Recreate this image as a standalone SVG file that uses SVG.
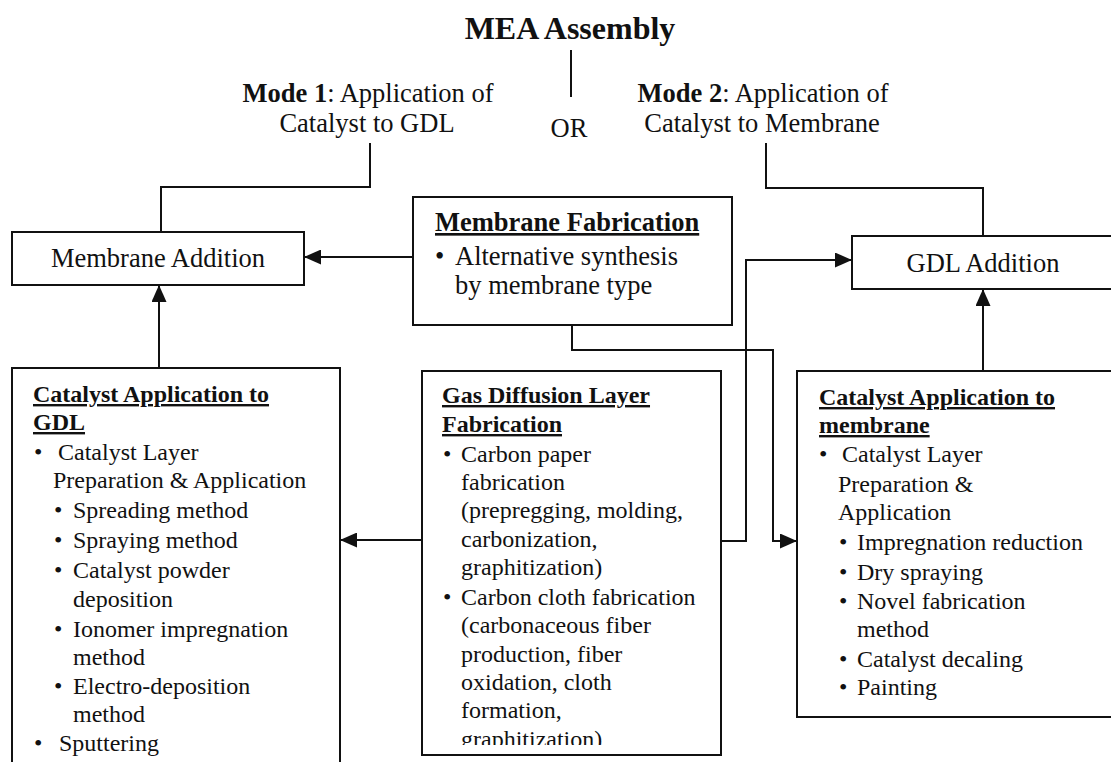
<svg xmlns="http://www.w3.org/2000/svg" width="1111" height="762" viewBox="0 0 1111 762">
<style>
text{font-family:"Liberation Serif","Times New Roman",serif;fill:#111}
.big{font-size:26.5px}
.sm{font-size:24px}
.b{font-weight:bold}
.u{text-decoration:underline}
.box{fill:none;stroke:#111;stroke-width:2}
.ln{fill:none;stroke:#111;stroke-width:2}
.mid{text-anchor:middle}
</style>
<defs>
<marker id="ah" viewBox="0 0 17 15" refX="17" refY="7.5" markerWidth="17" markerHeight="15" markerUnits="userSpaceOnUse" orient="auto"><path d="M0,0 L17,7.5 L0,15 z" fill="#111"/></marker>
<clipPath id="gclip"><rect x="400" y="360" width="340" height="385"/></clipPath>
</defs>
<rect width="1111" height="762" fill="#fff"/>

<g id="title">
<text x="570" y="39" class="b mid" style="font-size:32px">MEA Assembly</text>
<text x="569" y="137" class="big mid">OR</text>
</g>
<g id="mode1">
<text x="368" y="102" class="big mid"><tspan class="b">Mode 1</tspan>: Application of</text>
<text x="367" y="132" class="big mid">Catalyst to GDL</text>
</g>
<g id="mode2">
<text x="763" y="102" class="big mid"><tspan class="b">Mode 2</tspan>: Application of</text>
<text x="762" y="132" class="big mid">Catalyst to Membrane</text>
</g>

<g id="membrane-addition">
<rect x="12" y="232" width="292" height="53" class="box"/>
<text x="158" y="267" class="big mid">Membrane Addition</text>
</g>

<g id="membrane-fabrication">
<rect x="413" y="197" width="319" height="128" class="box"/>
<text x="435" y="231" class="big b u">Membrane Fabrication</text>
<text x="435" y="265" class="big">•</text>
<text x="455" y="265" class="big">Alternative synthesis</text>
<text x="455" y="294" class="big">by membrane type</text>
</g>

<g id="gdl-addition">
<rect x="852" y="236" width="270" height="53" class="box"/>
<text x="983" y="272" class="big mid">GDL Addition</text>
</g>

<g id="catalyst-gdl">
<rect x="12" y="368" width="328" height="410" class="box"/>
<text x="33" y="402" class="sm b u">Catalyst Application to</text>
<text x="33" y="430" class="sm b u">GDL</text>
<text x="34" y="460" class="sm">•</text>
<text x="58" y="460" class="sm">Catalyst Layer</text>
<text x="53" y="488" class="sm">Preparation &amp; Application</text>
<text x="54" y="518" class="sm">•</text>
<text x="73" y="518" class="sm">Spreading method</text>
<text x="54" y="548" class="sm">•</text>
<text x="73" y="548" class="sm">Spraying method</text>
<text x="54" y="578" class="sm">•</text>
<text x="73" y="578" class="sm">Catalyst powder</text>
<text x="73" y="607" class="sm">deposition</text>
<text x="54" y="637" class="sm">•</text>
<text x="73" y="637" class="sm">Ionomer impregnation</text>
<text x="73" y="665" class="sm">method</text>
<text x="54" y="694" class="sm">•</text>
<text x="73" y="694" class="sm">Electro-deposition</text>
<text x="73" y="722" class="sm">method</text>
<text x="34" y="751" class="sm">•</text>
<text x="59" y="751" class="sm">Sputtering</text>
</g>

<g id="gdl-fabrication">
<rect x="422" y="371" width="299" height="384" class="box"/>
<g clip-path="url(#gclip)">
<text x="442" y="403" class="sm b u">Gas Diffusion Layer</text>
<text x="442" y="432" class="sm b u">Fabrication</text>
<text x="443" y="462" class="sm">•</text>
<text x="461" y="462" class="sm">Carbon paper</text>
<text x="461" y="490" class="sm">fabrication</text>
<text x="461" y="518" class="sm">(prepregging, molding,</text>
<text x="461" y="547" class="sm">carbonization,</text>
<text x="461" y="575" class="sm">graphitization)</text>
<text x="443" y="605" class="sm">•</text>
<text x="461" y="605" class="sm">Carbon cloth fabrication</text>
<text x="461" y="633" class="sm">(carbonaceous fiber</text>
<text x="461" y="662" class="sm">production, fiber</text>
<text x="461" y="690" class="sm">oxidation, cloth</text>
<text x="461" y="718" class="sm">formation,</text>
<text x="461" y="747" class="sm">graphitization)</text>
</g>
</g>

<g id="catalyst-membrane">
<rect x="797" y="371" width="330" height="346" class="box"/>
<text x="819" y="405" class="sm b u">Catalyst Application to</text>
<text x="819" y="433" class="sm b u">membrane</text>
<text x="819" y="462" class="sm">•</text>
<text x="842" y="462" class="sm">Catalyst Layer</text>
<text x="838" y="492" class="sm">Preparation &amp;</text>
<text x="838" y="520" class="sm">Application</text>
<text x="839" y="550" class="sm">•</text>
<text x="857" y="550" class="sm">Impregnation reduction</text>
<text x="839" y="580" class="sm">•</text>
<text x="857" y="580" class="sm">Dry spraying</text>
<text x="839" y="609" class="sm">•</text>
<text x="857" y="609" class="sm">Novel fabrication</text>
<text x="857" y="637" class="sm">method</text>
<text x="839" y="667" class="sm">•</text>
<text x="857" y="667" class="sm">Catalyst decaling</text>
<text x="839" y="695" class="sm">•</text>
<text x="857" y="695" class="sm">Painting</text>
</g>

<g id="connectors">
<path class="ln" d="M571,50 V97"/>
<path class="ln" d="M370,143 V187 H161 V232"/>
<path class="ln" d="M766,143 V188 H983 V236"/>
<path class="ln" d="M413,257 H304" marker-end="url(#ah)"/>
<path class="ln" d="M159,368 V285" marker-end="url(#ah)"/>
<path class="ln" d="M983,371 V289" marker-end="url(#ah)"/>
<path class="ln" d="M422,540 H340" marker-end="url(#ah)"/>
<path class="ln" d="M721,541 H746 V260 H852" marker-end="url(#ah)"/>
<path class="ln" d="M572,325 V350 H773 V541 H797" marker-end="url(#ah)"/>
</g>
</svg>
